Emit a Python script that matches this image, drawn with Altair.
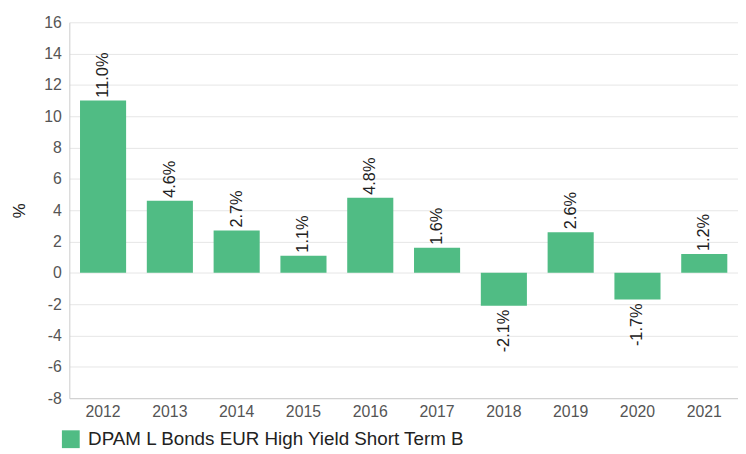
import altair as alt
import pandas as pd

years = ["2012", "2013", "2014", "2015", "2016", "2017", "2018", "2019", "2020", "2021"]
values = [11.0, 4.6, 2.7, 1.1, 4.8, 1.6, -2.1, 2.6, -1.7, 1.2]
series_name = "DPAM L Bonds EUR High Yield Short Term B"
y_ticks = [-8, -6, -4, -2, 0, 2, 4, 6, 8, 10, 12, 14, 16]

df = pd.DataFrame({"year": years, "value": values, "series": [series_name] * len(years)})
df["label"] = df["value"].map(lambda v: f"{v:.1f}%")

x = alt.X("year:N", title=None, sort=years,
          scale=alt.Scale(paddingInner=0.31, paddingOuter=0.16),
          axis=alt.Axis(labelAngle=0, labelFontSize=16, labelColor="#555555",
                        labelFont="Liberation Sans", ticks=False, domainColor="#cccccc",
                        labelPadding=6, grid=False))
y = alt.Y("value:Q", title="%",
          scale=alt.Scale(domain=[-8, 16], nice=False, zero=False),
          axis=alt.Axis(values=y_ticks, labelOverlap=False, labelExpr="'' + datum.value",
                        labelFontSize=16, labelColor="#555555",
                        labelFont="Liberation Sans", ticks=False, domainColor="#cccccc",
                        gridColor="#e6e6e6", labelPadding=8, titleFontSize=17,
                        titleFont="Liberation Sans", titleFontWeight="normal",
                        titleColor="#222222", titlePadding=16))

bars = alt.Chart(df).mark_bar(color="#50bc84").encode(
    x=x, y=y, y2=alt.datum(0),
    color=alt.Color("series:N", scale=alt.Scale(range=["#50bc84"]),
                    legend=alt.Legend(title=None, orient="none", legendX=-8, legendY=412,
                                      symbolType="square", symbolSize=324,
                                      symbolStrokeWidth=0, labelFontSize=19,
                                      labelFont="Liberation Sans", labelColor="#222222",
                                      labelLimit=600, labelOffset=8))
)

pos = alt.Chart(df).transform_filter("datum.value >= 0").mark_text(
    angle=270, align="left", baseline="middle", dx=3, fontSize=16.5,
    font="Liberation Sans", color="#222222"
).encode(x=x, y=y, text="label:N")

neg = alt.Chart(df).transform_filter("datum.value < 0").mark_text(
    angle=270, align="right", baseline="middle", dx=-4, fontSize=16.5,
    font="Liberation Sans", color="#222222"
).encode(x=x, y=y, text="label:N")

chart = alt.layer(bars, pos, neg).properties(
    width=676, height=380,
    autosize=alt.AutoSizeParams(type="none"),
    padding={"left": 62, "top": 12, "right": 0, "bottom": 54},
).configure_view(stroke=None)

chart.save("out.html", embed_options={"renderer": "svg", "actions": False})
